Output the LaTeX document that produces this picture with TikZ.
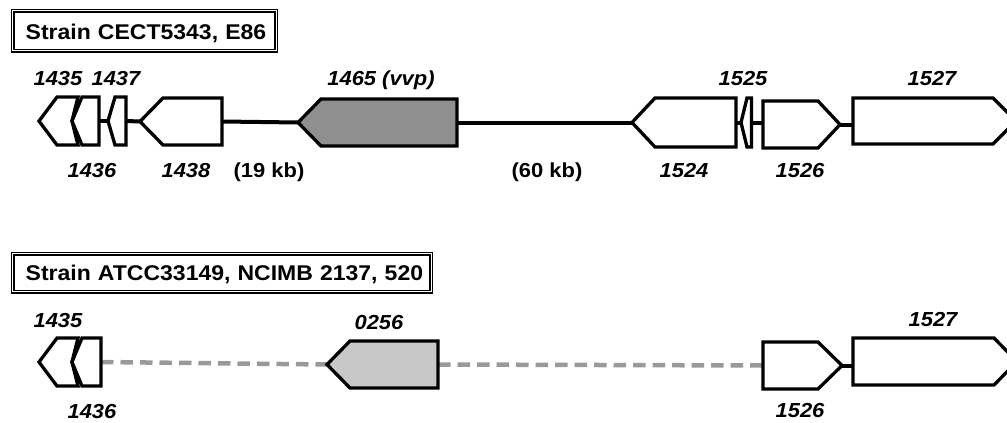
\documentclass[tikz,border=0pt]{standalone}
\usepackage{fontspec}
\setmainfont[FakeStretch=1.08]{Liberation Sans}
\usetikzlibrary{backgrounds}

\definecolor{vvpgray}{HTML}{8F8F8F}
\definecolor{lightgene}{HTML}{C8C8C8}
\definecolor{gapgray}{HTML}{999999}

\tikzset{
  genebox/.style={draw=black, line width=3.3pt, line join=miter},
  link/.style={draw=black, line width=4pt},
  gaplink/.style={draw=gapgray, line width=4.5pt, dash pattern=on 12.5pt off 7pt},
  genelabel/.style={font=\fontsize{20.3}{24}\selectfont\bfseries\itshape, inner sep=0pt, anchor=base},
  sizelabel/.style={font=\fontsize{20.3}{24}\selectfont\bfseries, inner sep=0pt, anchor=base},
  titlebox/.style={draw=black, line width=1.3pt, double=white, double distance=1.5pt,
    font=\fontsize{21.3}{25}\selectfont\bfseries, inner xsep=13pt, inner ysep=0pt,
    align=left, anchor=north west},
}

% gene pointing left: name, tip x, corner x, rear x, top y, bottom y, fill
\newcommand\geneleft[7]{%
  \path[genebox, fill=#7] (#2,{(#5+#6)/2}) -- (#3,#5) -- (#4,#5) -- (#4,#6) -- (#3,#6) -- cycle;
  \coordinate (#1-tip) at (#2,{(#5+#6)/2});
  \coordinate (#1-rear) at (#4,{(#5+#6)/2});}

% gene pointing right: name, rear x, corner x, tip x, top y, bottom y, fill
\newcommand\generight[7]{%
  \path[genebox, fill=#7] (#2,#5) -- (#3,#5) -- (#4,{(#5+#6)/2}) -- (#3,#6) -- (#2,#6) -- cycle;
  \coordinate (#1-tip) at (#4,{(#5+#6)/2});
  \coordinate (#1-rear) at (#2,{(#5+#6)/2});}

% left gene whose rear end is notched by its neighbour:
% name, tip x, corner x, rear x, notch x, top y, bottom y, fill
\newcommand\genenotch[8]{%
  \path[genebox, fill=#8] (#2,{(#6+#7)/2}) -- (#3,#6) -- (#4,#6) -- (#5,{(#6+#7)/2})
    -- (#4,#7) -- (#3,#7) -- cycle;
  \coordinate (#1-tip) at (#2,{(#6+#7)/2});}

\begin{document}
\begin{tikzpicture}[x=1pt, y=-1pt]
\useasboundingbox (0,0) rectangle (1007,423);

% ---------- Strain CECT5343, E86 ----------
\node[titlebox, text width=237.7pt, text height=28.55pt, text depth=11.45pt]
  (title1) at (12.05,10.05) {\mbox{Strain CECT5343, E86}};

\genenotch{g1435}{39}{57}{78}{72}{97}{145}{white}
\geneleft{g1436}{72}{82}{99}{97}{145}{white}
\geneleft{g1437}{108}{115}{126}{97}{145}{white}
\geneleft{g1438}{140}{163}{222}{98}{145}{white}
\geneleft{g1465}{298}{321}{457}{99}{146}{vvpgray}
\geneleft{g1524}{632}{655}{736}{98}{147}{white}
\geneleft{g1525}{741}{747}{751.5}{98}{147}{white}
\generight{g1526}{763}{818}{840}{101}{148}{white}
\generight{g1527}{853}{993}{1016}{98}{144}{white}

\begin{scope}[on background layer]
  \draw[link] (g1436-rear) -- (g1437-tip);
  \draw[link] (g1437-rear) -- (g1438-tip);
  \draw[link] (g1438-rear) -- (g1465-tip);
  \draw[link] (g1465-rear) -- (g1524-tip);
  \draw[link] (g1524-rear) -- (g1525-tip);
  \draw[link] (g1525-rear) -- (g1525-rear -| g1526-rear);
  \draw[link] (g1526-tip) -- (g1526-tip -| g1527-rear);
\end{scope}

\node[genelabel] (t1435) at (58,85) {1435};
\node[genelabel] (t1437) at (116,85) {1437};
\node[genelabel] (t1436) at (92,177) {1436};
\node[genelabel] (t1438) at (186,177) {1438};
\node[sizelabel] (t19kb) at (269,177) {(19 kb)};
\node[genelabel] (t1465) at (381,85) {1465 (vvp)};
\node[sizelabel] (t60kb) at (547,177) {(60 kb)};
\node[genelabel] (t1525) at (743,85) {1525};
\node[genelabel] (t1527) at (932,85) {1527};
\node[genelabel] (t1524) at (684,177) {1524};
\node[genelabel] (t1526) at (800,177) {1526};

% ---------- Strain ATCC33149, NCIMB 2137, 520 ----------
\node[titlebox, text width=392.7pt, text height=27.0pt, text depth=10.9pt]
  (title2) at (12.05,253.05) {\mbox{Strain ATCC33149, NCIMB 2137, 520}};

\genenotch{h1435}{39}{57}{78}{72}{338}{386}{white}
\geneleft{h1436}{72}{82}{101}{338}{386}{white}
\geneleft{h0256}{327}{350}{438}{341}{388}{lightgene}
\generight{h1526}{763}{818}{842}{342}{389}{white}
\generight{h1527}{853}{994}{1017}{338}{385}{white}

\begin{scope}[on background layer]
  \draw[gaplink] (h1436-rear) -- (h0256-tip);
  \draw[gaplink] (h0256-rear) -- (h1526-rear);
  \draw[link] (h1526-tip) -- (h1526-tip -| h1527-rear);
\end{scope}

\node[genelabel] (u1435) at (58,327) {1435};
\node[genelabel] (u1436) at (92,418) {1436};
\node[genelabel] (u0256) at (379,329) {0256};
\node[genelabel] (u1527) at (933,326) {1527};
\node[genelabel] (u1526) at (800,417) {1526};
\end{tikzpicture}
\end{document}
